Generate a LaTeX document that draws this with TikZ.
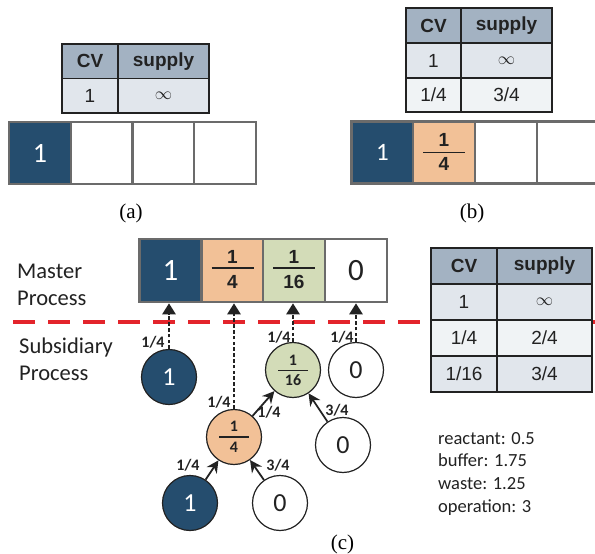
\documentclass[tikz,border=0pt]{standalone}
\usepackage{fontspec}
\setmainfont{Liberation Serif}
\newfontfamily\arialf{Liberation Sans}
\newfontfamily\calf{Carlito}
\usetikzlibrary{arrows.meta,calc}
\definecolor{dblue}{HTML}{254D6E}
\definecolor{orng}{HTML}{F2C197}
\definecolor{grn}{HTML}{D3DCB8}
\definecolor{hdr}{HTML}{A3B2C2}
\definecolor{rowa}{HTML}{E1E6EC}
\definecolor{rowb}{HTML}{F0F3F5}
\definecolor{boxgray}{HTML}{6B6B6B}
\definecolor{redl}{HTML}{E3242B}
\definecolor{txt}{HTML}{222222}
\tikzset{
  cellbox/.style={draw=boxgray, line width=2.6pt, minimum width=62pt, minimum height=62pt, inner sep=0pt, font=\calf\fontsize{28}{30}\selectfont},
  mcell/.style={cellbox, minimum height=63pt, font=\calf\fontsize{31}{33}\selectfont},
  tcell/.style={draw=txt, line width=1.2pt, inner sep=0pt, font=\arialf\fontsize{19}{22}\selectfont, text=txt},
  fracnum/.style={anchor=base, inner sep=0pt, font=\arialf\bfseries\fontsize{19}{22}\selectfont, text=txt},
  cfracnum/.style={anchor=base, inner sep=0pt, font=\calf\bfseries\fontsize{16}{18}\selectfont, text=txt},
  circ/.style={circle, draw=txt, line width=1.2pt, minimum size=55pt, inner sep=0pt, font=\calf\fontsize{26}{28}\selectfont},
  dasharr/.style={line width=2.6pt, txt, dash pattern=on 3.6pt off 2.2pt, -{Triangle[width=13pt,length=11pt]}},
  solarr/.style={line width=1.8pt, txt, -{Stealth[width=12pt,length=12pt]}},
  flabel/.style={font=\calf\bfseries\fontsize{16}{18}\selectfont, text=txt, inner sep=0pt},
  caplabel/.style={anchor=base, inner sep=0pt, font=\fontsize{21}{24}\selectfont},
  sidelabel/.style={anchor=base west, align=left, inner sep=0pt, font=\calf\fontsize{22.5}{27}\selectfont, text=txt}
}
\begin{document}
\begin{tikzpicture}[x=1pt,y=-1pt]
\clip (0,0) rectangle (595,554);
\fill[white] (0,0) rectangle (595,554);

% ---------- (a) ----------
\node[tcell, fill=hdr, minimum width=56pt, minimum height=34.5pt] (ta11) at (90,61.25) {\bfseries CV};
\node[tcell, fill=hdr, minimum width=91pt, minimum height=34.5pt] (ta12) at (163.5,61.25) {\bfseries supply};
\node[tcell, fill=rowa, minimum width=56pt, minimum height=34.5pt] (ta21) at (90,95.75) {1};
\node[tcell, fill=rowa, minimum width=91pt, minimum height=34.5pt] (ta22) at (163.5,95.75) {$\infty$};

\node[cellbox, fill=dblue, text=white] (a1) at (40,153) {1};
\node[cellbox, fill=white] (a2) at (102,153) {};
\node[cellbox, fill=white] (a3) at (163.5,153) {};
\node[cellbox, fill=white] (a4) at (225,153) {};
\node[caplabel] (capa) at (131,218.5) {(a)};

% ---------- (b) ----------
\node[tcell, fill=hdr, minimum width=55pt, minimum height=35pt] (tb11) at (433.5,25.5) {\bfseries CV};
\node[tcell, fill=hdr, minimum width=91pt, minimum height=35pt] (tb12) at (506.5,25.5) {\bfseries supply};
\node[tcell, fill=rowa, minimum width=55pt, minimum height=35pt] (tb21) at (433.5,60.5) {1};
\node[tcell, fill=rowa, minimum width=91pt, minimum height=35pt] (tb22) at (506.5,60.5) {$\infty$};
\node[tcell, fill=rowb, minimum width=55pt, minimum height=34pt] (tb31) at (433.5,95) {1/4};
\node[tcell, fill=rowb, minimum width=91pt, minimum height=34pt] (tb32) at (506.5,95) {3/4};

\node[cellbox, fill=dblue, text=white, font=\calf\fontsize{25}{27}\selectfont] (b1) at (382.5,152.5) {1};
\node[cellbox, fill=orng] (b2) at (444,152.5) {};
\node[cellbox, fill=white] (b3) at (506,152.5) {};
\node[cellbox, fill=white] (b4) at (568,152.5) {};
\node[fracnum] (b2n) at ($(b2.center)+(0,-6)$) {1};
\draw[line width=1.8pt, txt] ($(b2.center)+(-21,0)$) -- ($(b2.center)+(21,0)$);
\node[fracnum] (b2d) at ($(b2.center)+(0,17.5)$) {4};
\node[caplabel] (capb) at (472,218.5) {(b)};

% ---------- (c) ----------
\node[mcell, fill=dblue, text=white] (m1) at (170.5,270.5) {1};
\node[mcell, fill=orng] (m2) at (232.5,270.5) {};
\node[mcell, fill=grn] (m3) at (294,270.5) {};
\node[mcell, fill=white, text=txt] (m4) at (356,270.5) {0};
\node[fracnum] (m2n) at ($(m2.center)+(0,-7.5)$) {1};
\draw[line width=1.8pt, txt] ($(m2.center)+(-21,-2.5)$) -- ($(m2.center)+(21,-2.5)$);
\node[fracnum] (m2d) at ($(m2.center)+(0,17.5)$) {4};
\node[fracnum] (m3n) at ($(m3.center)+(0,-7.5)$) {1};
\draw[line width=1.8pt, txt] ($(m3.center)+(-21,-2.5)$) -- ($(m3.center)+(21,-2.5)$);
\node[fracnum] (m3d) at ($(m3.center)+(0,17.5)$) {16};

\node[sidelabel] (master) at (17,305) {Master\\Process};
\node[sidelabel] (subsid) at (19,380) {Subsidiary\\Process};

\coordinate (redL) at (13,322);
\coordinate (redR) at (600,322);
\draw[redl, line width=3.2pt, dash pattern=on 22pt off 13pt] (redL) -- (redR);

% circles
\node[circ, fill=dblue, text=white] (c1) at (169,377) {1};
\node[circ, fill=grn] (cg) at (293,370) {};
\node[circ, fill=white, text=txt] (cw) at (356,370) {0};
\node[circ, fill=orng] (co) at (234,437) {};
\node[circ, fill=dblue, text=white] (cb) at (190,503) {1};
\node[circ, fill=white, text=txt] (cwb) at (280,503) {0};
\node[circ, fill=white, text=txt] (cwr) at (343,445) {0};

\node[cfracnum] (cgn) at ($(cg.center)+(0,-4.5)$) {1};
\draw[line width=1.5pt, txt] ($(cg.center)+(-15,0.5)$) -- ($(cg.center)+(15,0.5)$);
\node[cfracnum] (cgd) at ($(cg.center)+(0,15.5)$) {16};
\node[cfracnum] (con) at ($(co.center)+(0,-5.5)$) {1};
\draw[line width=1.5pt, txt] ($(co.center)+(-15,0)$) -- ($(co.center)+(15,0)$);
\node[cfracnum] (cod) at ($(co.center)+(0,15.5)$) {4};

% dashed arrows to master
\draw[dasharr] (c1.north) -- (c1.north |- m1.south);
\draw[dasharr] (co.north) -- (co.north |- m2.south);
\draw[dasharr] (cg.north) -- (cg.north |- m3.south);
\draw[dasharr] (cw.north) -- (cw.north |- m4.south);

% solid arrows
\draw[solarr] (cb) -- (co);
\draw[solarr] (cwb) -- (co);
\draw[solarr] (co) -- (cg);
\draw[solarr] (cwr) -- (cg);

% labels
\node[flabel] (l1) at (153,342) {1/4};
\node[flabel] (l2) at (219,402) {1/4};
\node[flabel] (l3) at (279,337) {1/4};
\node[flabel] (l4) at (342,337) {1/4};
\node[flabel] (l5) at (188,465) {1/4};
\node[flabel] (l6) at (278,465.5) {3/4};
\node[flabel] (l7) at (269,412) {1/4};
\node[flabel] (l8) at (337,410) {3/4};

% table (c)
\node[tcell, fill=hdr, minimum width=66pt, minimum height=36pt] (tc11) at (464,266) {\bfseries CV};
\node[tcell, fill=hdr, minimum width=95pt, minimum height=36pt] (tc12) at (544.5,266) {\bfseries supply};
\node[tcell, fill=rowa, minimum width=66pt, minimum height=36pt] (tc21) at (464,302) {1};
\node[tcell, fill=rowa, minimum width=95pt, minimum height=36pt] (tc22) at (544.5,302) {$\infty$};
\node[tcell, fill=rowb, minimum width=66pt, minimum height=36pt] (tc31) at (464,338) {1/4};
\node[tcell, fill=rowb, minimum width=95pt, minimum height=36pt] (tc32) at (544.5,338) {2/4};
\node[tcell, fill=rowa, minimum width=66pt, minimum height=36pt] (tc41) at (464,374) {1/16};
\node[tcell, fill=rowa, minimum width=95pt, minimum height=36pt] (tc42) at (544.5,374) {3/4};

\node[anchor=base west, align=left, inner sep=0pt, font=\calf\fontsize{18.5}{22.8}\selectfont, text=txt] (stats) at (438,512.5) {reactant: 0.5\\buffer: 1.75\\waste: 1.25\\operation: 3};

\node[caplabel] (capc) at (342.5,549) {(c)};
\end{tikzpicture}
\end{document}
